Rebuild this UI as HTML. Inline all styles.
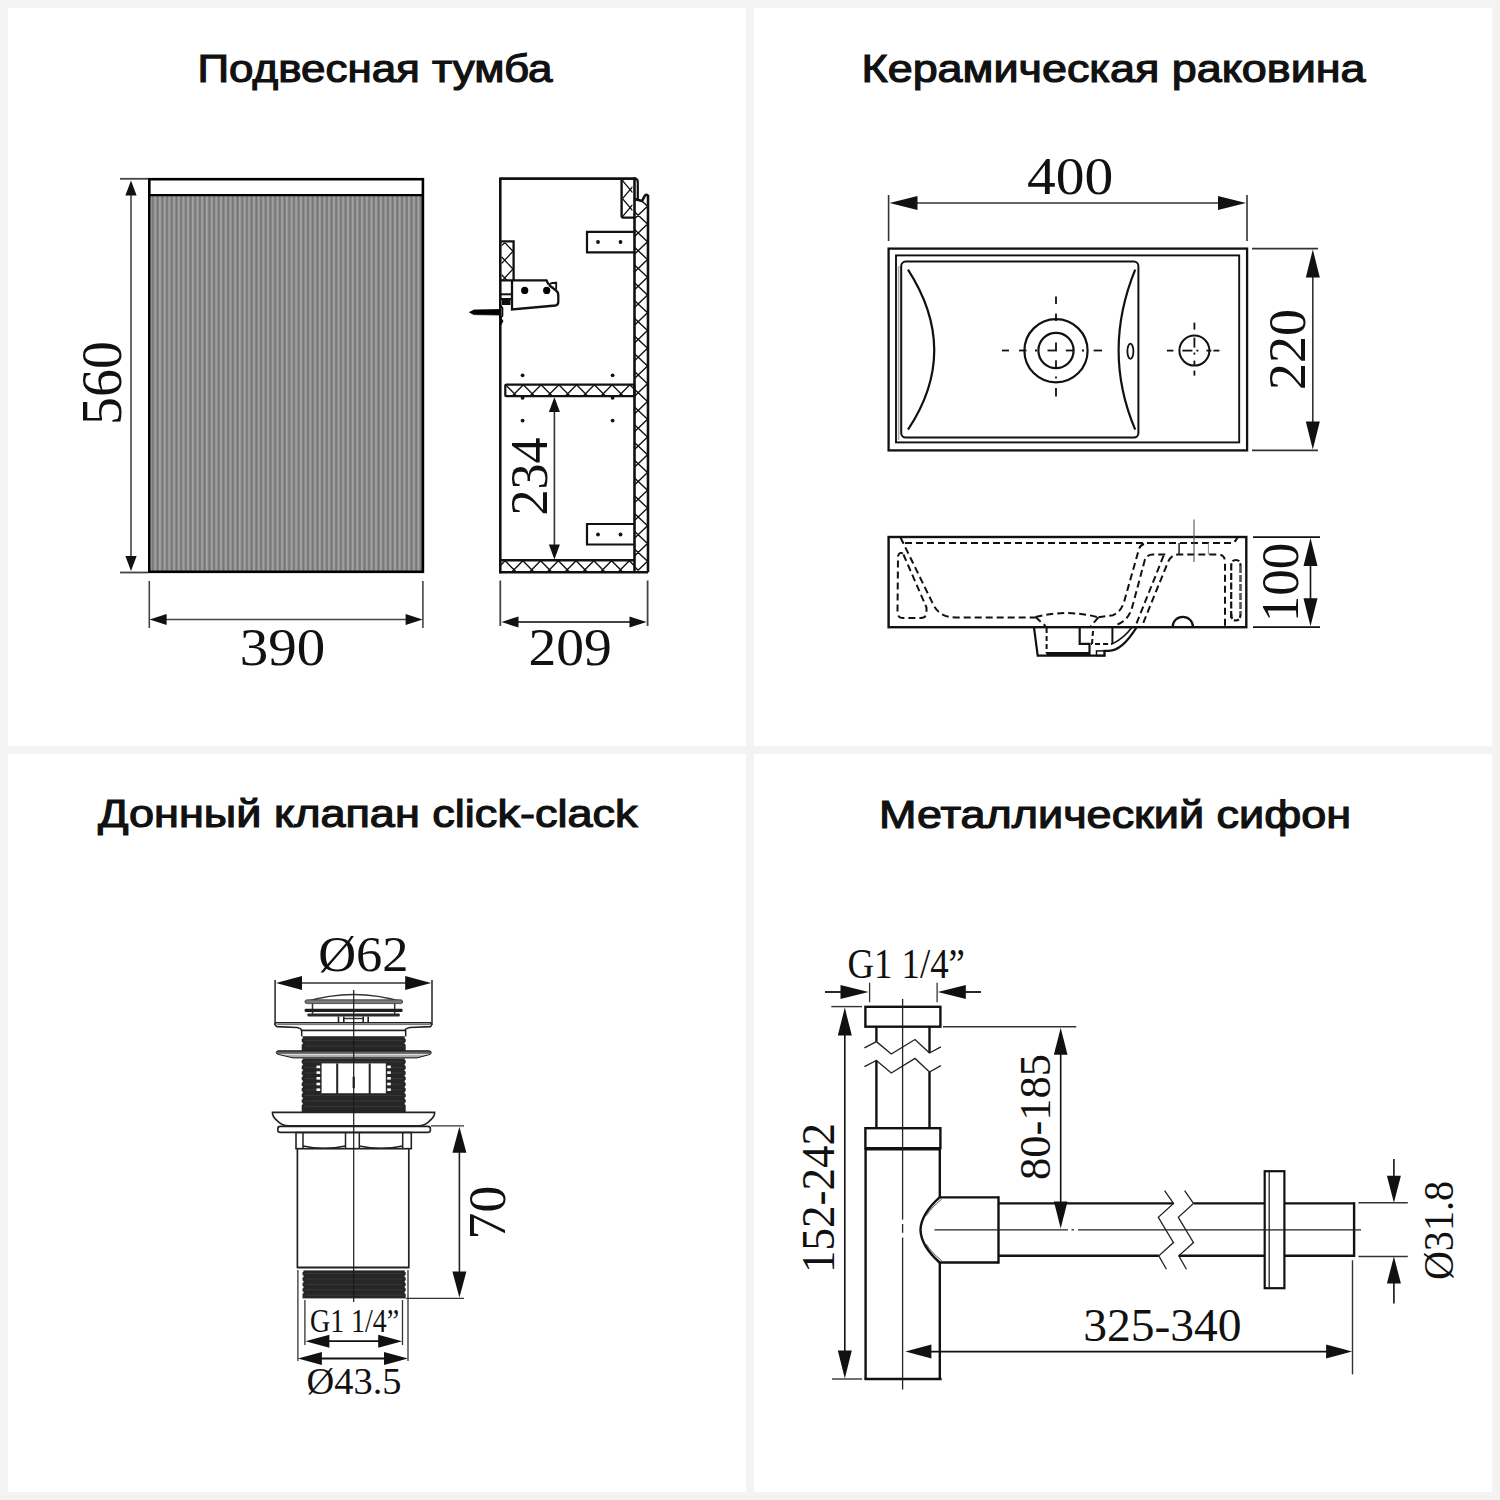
<!DOCTYPE html>
<html><head><meta charset="utf-8"><title>spec</title>
<style>
html,body{margin:0;padding:0;background:#f3f3f3;}
body{width:1500px;height:1500px;overflow:hidden;font-family:"Liberation Sans",sans-serif;}
svg{display:block;}
</style></head><body>
<svg width="1500" height="1500" viewBox="0 0 1500 1500">
<defs>
<linearGradient id="flute" x1="0" y1="0" x2="1" y2="0">
<stop offset="0" stop-color="#6c6c6c"/><stop offset="0.25" stop-color="#a6a6a6"/><stop offset="0.55" stop-color="#9a9a9a"/><stop offset="0.8" stop-color="#7a7a7a"/><stop offset="1" stop-color="#6c6c6c"/>
</linearGradient>
<pattern id="stripes" x="148.7" y="0" width="4.7" height="10" patternUnits="userSpaceOnUse">
<rect x="0" y="0" width="4.7" height="10" fill="url(#flute)"/>
</pattern>
</defs>
<rect x="0" y="0" width="1500" height="1500" fill="#f3f3f3"/>
<rect x="8" y="8" width="738" height="738" fill="#fff"/>
<rect x="754" y="8" width="738" height="738" fill="#fff"/>
<rect x="8" y="754" width="738" height="738" fill="#fff"/>
<rect x="754" y="754" width="738" height="738" fill="#fff"/>
<text x="375" y="82" font-family="Liberation Sans" font-size="38" font-weight="normal" fill="#111" text-anchor="middle" textLength="355" lengthAdjust="spacingAndGlyphs" stroke="#111" stroke-width="1.15">Подвесная тумба</text>
<rect x="150.5" y="195.5" width="271.5" height="376" fill="url(#stripes)"/>
<rect x="149.3" y="179.2" width="273.6" height="392.6" rx="0" stroke="#000" stroke-width="2.6" fill="none" />
<line x1="149.3" y1="195.2" x2="422.9" y2="195.2" stroke="#000" stroke-width="2.2" />
<line x1="120" y1="178.8" x2="148" y2="178.8" stroke="#444" stroke-width="1.8" />
<line x1="120" y1="572.5" x2="148" y2="572.5" stroke="#444" stroke-width="1.8" />
<line x1="131" y1="194" x2="131" y2="558" stroke="#444" stroke-width="1.6" />
<polygon points="131.0,180.5 125.4,195.5 136.6,195.5" fill="#111"/>
<polygon points="131.0,571.0 125.4,556.0 136.6,556.0" fill="#111"/>
<text x="121.2" y="383" font-family="Liberation Serif" font-size="57.5" font-weight="normal" fill="#111" text-anchor="middle" textLength="84" lengthAdjust="spacingAndGlyphs" transform="rotate(-90 121.2 383)" >560</text>
<line x1="149.3" y1="581" x2="149.3" y2="628" stroke="#444" stroke-width="1.6" />
<line x1="422.9" y1="581" x2="422.9" y2="628" stroke="#444" stroke-width="1.6" />
<line x1="165" y1="619.5" x2="408" y2="619.5" stroke="#444" stroke-width="1.6" />
<polygon points="149.6,619.5 166.6,613.9 166.6,625.1" fill="#111"/>
<polygon points="422.6,619.5 405.6,613.9 405.6,625.1" fill="#111"/>
<text x="282.4" y="664.5" font-family="Liberation Serif" font-size="52" font-weight="normal" fill="#111" text-anchor="middle" textLength="85.5" lengthAdjust="spacingAndGlyphs" >390</text>
<g clip-path="url(#c16)"><clipPath id="c16"><rect x="634.5" y="200" width="13.0" height="372"/></clipPath><path d="M634.5,158.52 L647.5,170.85 L634.5,183.18 M634.5,176.27 L647.5,188.60 L634.5,200.93 M634.5,194.02 L647.5,206.35 L634.5,218.68 M634.5,211.77 L647.5,224.10 L634.5,236.43 M634.5,229.52 L647.5,241.85 L634.5,254.18 M634.5,247.27 L647.5,259.60 L634.5,271.93 M634.5,265.02 L647.5,277.35 L634.5,289.68 M634.5,282.77 L647.5,295.10 L634.5,307.43 M634.5,300.52 L647.5,312.85 L634.5,325.18 M634.5,318.27 L647.5,330.60 L634.5,342.93 M634.5,336.02 L647.5,348.35 L634.5,360.68 M634.5,353.77 L647.5,366.10 L634.5,378.43 M634.5,371.52 L647.5,383.85 L634.5,396.18 M634.5,389.27 L647.5,401.60 L634.5,413.93 M634.5,407.02 L647.5,419.35 L634.5,431.68 M634.5,424.77 L647.5,437.10 L634.5,449.43 M634.5,442.52 L647.5,454.85 L634.5,467.18 M634.5,460.27 L647.5,472.60 L634.5,484.93 M634.5,478.02 L647.5,490.35 L634.5,502.68 M634.5,495.77 L647.5,508.10 L634.5,520.43 M634.5,513.52 L647.5,525.85 L634.5,538.18 M634.5,531.27 L647.5,543.60 L634.5,555.93 M634.5,549.02 L647.5,561.35 L634.5,573.68 M634.5,566.77 L647.5,579.10 L634.5,591.43 " stroke="#111" stroke-width="1.4" fill="none"/></g>
<path d="M634.5,199 L642,201 L645,195.5 Q646.5,193.8 648,195.8 L648,572.3" stroke="#111" stroke-width="2.6" fill="none" />
<line x1="634.5" y1="178.5" x2="634.5" y2="572.3" stroke="#111" stroke-width="2.6" />
<path d="M632.5,178.6 L635.5,178.6 Q637.8,179.5 637.8,182 L637.8,199" stroke="#111" stroke-width="2.2" fill="none" />
<g clip-path="url(#c20)"><clipPath id="c20"><rect x="622.5" y="180" width="10.100000000000023" height="37.5"/></clipPath><path d="M632.6,132.60 L622.5,144.60 L632.6,156.60 M632.6,150.60 L622.5,162.60 L632.6,174.60 M632.6,168.60 L622.5,180.60 L632.6,192.60 M632.6,186.60 L622.5,198.60 L632.6,210.60 M632.6,204.60 L622.5,216.60 L632.6,228.60 M632.6,222.60 L622.5,234.60 L632.6,246.60 " stroke="#111" stroke-width="1.3" fill="none"/></g>
<path d="M621.6,178.6 L621.6,215.8 Q621.6,217.6 623.4,217.6 L634,217.6" stroke="#111" stroke-width="2.4" fill="none" />
<line x1="500.3" y1="178.6" x2="636" y2="178.6" stroke="#111" stroke-width="2.6" />
<line x1="500.3" y1="177.4" x2="500.3" y2="573.6" stroke="#111" stroke-width="2.6" />
<line x1="500.3" y1="572.3" x2="648" y2="572.3" stroke="#111" stroke-width="2.6" />
<g clip-path="url(#c25)"><clipPath id="c25"><rect x="500.3" y="560.7" width="134.2" height="11.299999999999955"/></clipPath><path d="M458.51,572 L469.60,560.7 L480.69,572 M476.26,572 L487.35,560.7 L498.44,572 M494.01,572 L505.10,560.7 L516.19,572 M511.76,572 L522.85,560.7 L533.94,572 M529.51,572 L540.60,560.7 L551.69,572 M547.26,572 L558.35,560.7 L569.44,572 M565.01,572 L576.10,560.7 L587.19,572 M582.76,572 L593.85,560.7 L604.94,572 M600.51,572 L611.60,560.7 L622.69,572 M618.26,572 L629.35,560.7 L640.44,572 M636.01,572 L647.10,560.7 L658.19,572 " stroke="#111" stroke-width="1.4" fill="none" stroke-linejoin="miter"/></g>
<line x1="500.3" y1="560.3" x2="634.5" y2="560.3" stroke="#111" stroke-width="2.4" />
<g clip-path="url(#c27)"><clipPath id="c27"><rect x="505.3" y="384.8" width="128.49999999999994" height="11.199999999999989"/></clipPath><path d="M459.01,396 L470.10,384.8 L481.19,396 M476.76,396 L487.85,384.8 L498.94,396 M494.51,396 L505.60,384.8 L516.69,396 M512.26,396 L523.35,384.8 L534.44,396 M530.01,396 L541.10,384.8 L552.19,396 M547.76,396 L558.85,384.8 L569.94,396 M565.51,396 L576.60,384.8 L587.69,396 M583.26,396 L594.35,384.8 L605.44,396 M601.01,396 L612.10,384.8 L623.19,396 M618.76,396 L629.85,384.8 L640.94,396 M636.51,396 L647.60,384.8 L658.69,396 " stroke="#111" stroke-width="1.4" fill="none" stroke-linejoin="miter"/></g>
<rect x="505.3" y="384.6" width="129" height="11.6" rx="1" stroke="#111" stroke-width="2.2" fill="none" />
<circle cx="522.6" cy="375.3" r="1.9" fill="#111"/>
<circle cx="612.6" cy="375.3" r="1.9" fill="#111"/>
<circle cx="522.6" cy="397.8" r="1.9" fill="#111"/>
<circle cx="612.6" cy="397.8" r="1.9" fill="#111"/>
<circle cx="522.6" cy="420.6" r="1.9" fill="#111"/>
<circle cx="612.6" cy="420.6" r="1.9" fill="#111"/>
<path d="M634,231.8 L587,231.8 L587,252.3 L634,252.3" stroke="#111" stroke-width="2.2" fill="none" />
<circle cx="598" cy="242" r="1.9" fill="#111"/><circle cx="620.5" cy="242" r="1.9" fill="#111"/>
<path d="M634,524 L587,524 L587,544.5 L634,544.5" stroke="#111" stroke-width="2.2" fill="none" />
<circle cx="598" cy="534.5" r="1.9" fill="#111"/><circle cx="620.5" cy="534.5" r="1.9" fill="#111"/>
<g clip-path="url(#c39)"><clipPath id="c39"><rect x="501.5" y="242.5" width="11.5" height="37.80000000000001"/></clipPath><path d="M501.5,203.47 L513,215.80 L501.5,228.13 M501.5,221.22 L513,233.55 L501.5,245.88 M501.5,238.97 L513,251.30 L501.5,263.63 M501.5,256.72 L513,269.05 L501.5,281.38 M501.5,274.47 L513,286.80 L501.5,299.13 " stroke="#111" stroke-width="1.3" fill="none"/></g>
<path d="M500.3,241.4 L513.6,241.4 L513.6,280.3" stroke="#111" stroke-width="2.3" fill="none" />
<path d="M500.3,280.3 L546.5,280.3 L548.5,284.5 M512,280.3 L512,309.5 L555.5,305.5 Q558.3,305 558.3,302 L558.3,295 Q558.3,292 556,290.5 L549,285" stroke="#111" stroke-width="2.3" fill="none" />
<path d="M548.5,284.8 L552,283 L556.2,282.8 L556.2,289.5" stroke="#111" stroke-width="1.8" fill="none" />
<line x1="500.3" y1="294.3" x2="511" y2="294.3" stroke="#111" stroke-width="2" />
<line x1="500.3" y1="299" x2="511" y2="299" stroke="#111" stroke-width="2" />
<rect x="502" y="300" width="8.5" height="5" fill="#111"/>
<circle cx="524.7" cy="290.4" r="3.6" fill="#000"/><circle cx="546.7" cy="290.4" r="3.6" fill="#000"/>
<path d="M469.5,312.3 L474,310 L500,309.5 L500,315 L474,314.6 Z" stroke="#000" stroke-width="0.8" fill="#000" />
<path d="M500.3,305 L502.5,308 L502.5,316 L500.3,318 M500.3,318 L502.5,321 L500.3,325" stroke="#000" stroke-width="1.6" fill="none" />
<line x1="554.4" y1="410" x2="554.4" y2="545" stroke="#333" stroke-width="1.6" />
<polygon points="554.4,397.0 548.9,412.0 559.9,412.0" fill="#111"/>
<polygon points="554.4,559.5 548.9,544.5 559.9,544.5" fill="#111"/>
<text x="546.5" y="476.5" font-family="Liberation Serif" font-size="53" font-weight="normal" fill="#111" text-anchor="middle" textLength="78.1" lengthAdjust="spacingAndGlyphs" transform="rotate(-90 546.5 476.5)" >234</text>
<line x1="500.3" y1="580.5" x2="500.3" y2="626" stroke="#444" stroke-width="1.8" />
<line x1="647.6" y1="580.5" x2="647.6" y2="626" stroke="#444" stroke-width="1.8" />
<line x1="515" y1="622" x2="633" y2="622" stroke="#444" stroke-width="1.8" />
<polygon points="501.5,622.0 518.5,616.4 518.5,627.6" fill="#111"/>
<polygon points="646.5,622.0 629.5,616.4 629.5,627.6" fill="#111"/>
<text x="570.1" y="665" font-family="Liberation Serif" font-size="52" font-weight="normal" fill="#111" text-anchor="middle" textLength="83.3" lengthAdjust="spacingAndGlyphs" >209</text>
<text x="1113.5" y="82" font-family="Liberation Sans" font-size="38" font-weight="normal" fill="#111" text-anchor="middle" textLength="504" lengthAdjust="spacingAndGlyphs" stroke="#111" stroke-width="1.15">Керамическая раковина</text>
<rect x="888.6" y="248.6" width="358.5" height="201.8" rx="0" stroke="#111" stroke-width="2.3" fill="none" />
<rect x="896" y="255.4" width="343.2" height="187" rx="0" stroke="#111" stroke-width="1.9" fill="none" />
<line x1="898.6" y1="266" x2="898.6" y2="440" stroke="#aaa" stroke-width="1.6" />
<rect x="901.2" y="261.6" width="237.2" height="176" rx="4.5" stroke="#111" stroke-width="2.0" fill="none" />
<path d="M908,269.6 Q960.5,351 908,429.6" stroke="#111" stroke-width="2.2" fill="none" />
<path d="M1135.2,269.6 Q1102,351 1135.2,429.6" stroke="#111" stroke-width="2.2" fill="none" />
<ellipse cx="1130.4" cy="351.2" rx="3" ry="7.6" stroke="#111" stroke-width="1.8" fill="none"/>
<circle cx="1056" cy="350.7" r="31.6" stroke="#111" stroke-width="2.2" fill="none"/>
<circle cx="1056" cy="350.5" r="17.6" stroke="#111" stroke-width="2.2" fill="none"/>
<line x1="1002" y1="350.5" x2="1009" y2="350.5" stroke="#111" stroke-width="1.8" />
<line x1="1019" y1="350.5" x2="1026.5" y2="350.5" stroke="#111" stroke-width="1.8" />
<line x1="1035" y1="350.5" x2="1037" y2="350.5" stroke="#111" stroke-width="1.8" />
<line x1="1047.5" y1="350.5" x2="1056" y2="350.5" stroke="#111" stroke-width="1.8" />
<line x1="1056" y1="350.5" x2="1056.8" y2="350.5" stroke="#111" stroke-width="1.8" />
<line x1="1065.8" y1="350.5" x2="1073.6" y2="350.5" stroke="#111" stroke-width="1.8" />
<line x1="1082" y1="350.5" x2="1084" y2="350.5" stroke="#111" stroke-width="1.8" />
<line x1="1093.6" y1="350.5" x2="1102" y2="350.5" stroke="#111" stroke-width="1.8" />
<line x1="1056" y1="296.5" x2="1056" y2="304.0" stroke="#111" stroke-width="1.8" />
<line x1="1056" y1="313.5" x2="1056" y2="321.0" stroke="#111" stroke-width="1.8" />
<line x1="1056" y1="342.5" x2="1056" y2="350.5" stroke="#111" stroke-width="1.8" />
<line x1="1056" y1="360.3" x2="1056" y2="368.5" stroke="#111" stroke-width="1.8" />
<line x1="1056" y1="376.5" x2="1056" y2="378.5" stroke="#111" stroke-width="1.8" />
<line x1="1056" y1="388.1" x2="1056" y2="396.5" stroke="#111" stroke-width="1.8" />
<circle cx="1194.4" cy="350.6" r="15" stroke="#111" stroke-width="2" fill="none"/>
<line x1="1166.9" y1="350.6" x2="1173.4" y2="350.6" stroke="#111" stroke-width="1.8" />
<line x1="1182.4" y1="350.6" x2="1192.4" y2="350.6" stroke="#111" stroke-width="1.8" />
<line x1="1196.4" y1="350.6" x2="1198.4" y2="350.6" stroke="#111" stroke-width="1.8" />
<line x1="1206.4" y1="350.6" x2="1211.4" y2="350.6" stroke="#111" stroke-width="1.8" />
<line x1="1213.4" y1="350.6" x2="1219.4" y2="350.6" stroke="#111" stroke-width="1.8" />
<line x1="1194.4" y1="322.6" x2="1194.4" y2="329.6" stroke="#111" stroke-width="1.8" />
<line x1="1194.4" y1="337.6" x2="1194.4" y2="347.6" stroke="#111" stroke-width="1.8" />
<line x1="1194.4" y1="352.6" x2="1194.4" y2="354.6" stroke="#111" stroke-width="1.8" />
<line x1="1194.4" y1="360.6" x2="1194.4" y2="365.6" stroke="#111" stroke-width="1.8" />
<line x1="1194.4" y1="370.6" x2="1194.4" y2="375.6" stroke="#111" stroke-width="1.8" />
<line x1="888.6" y1="195" x2="888.6" y2="241" stroke="#333" stroke-width="1.6" />
<line x1="1247" y1="195" x2="1247" y2="241" stroke="#333" stroke-width="1.6" />
<line x1="905" y1="203" x2="1231" y2="203" stroke="#333" stroke-width="1.6" />
<polygon points="889.5,203.0 917.5,196.0 917.5,210.0" fill="#111"/>
<polygon points="1246.0,203.0 1218.0,196.0 1218.0,210.0" fill="#111"/>
<text x="1070.2" y="194.2" font-family="Liberation Serif" font-size="52" font-weight="normal" fill="#111" text-anchor="middle" textLength="86.3" lengthAdjust="spacingAndGlyphs" >400</text>
<line x1="1252" y1="248.6" x2="1318" y2="248.6" stroke="#333" stroke-width="1.6" />
<line x1="1252" y1="450.4" x2="1318" y2="450.4" stroke="#333" stroke-width="1.6" />
<line x1="1312.8" y1="265" x2="1312.8" y2="434" stroke="#333" stroke-width="1.6" />
<polygon points="1312.8,249.5 1305.8,277.5 1319.8,277.5" fill="#111"/>
<polygon points="1312.8,449.5 1305.8,421.5 1319.8,421.5" fill="#111"/>
<text x="1304.8" y="349.6" font-family="Liberation Serif" font-size="52" font-weight="normal" fill="#111" text-anchor="middle" textLength="81" lengthAdjust="spacingAndGlyphs" transform="rotate(-90 1304.8 349.6)" >220</text>
<rect x="888.6" y="537" width="357.7" height="90.2" rx="0" stroke="#111" stroke-width="2.4" fill="none" />
<path d="M905,543 L1233,543 Q1235.5,541.5 1237.5,537.5" stroke="#111" stroke-width="2.0" fill="none" stroke-dasharray="7,4" stroke-linecap="butt"/>
<path d="M900.5,537.5 L933.5,605 Q940,617.4 955,617.4 L1035.5,617.4" stroke="#111" stroke-width="2.0" fill="none" stroke-dasharray="7,4" stroke-linecap="butt"/>
<path d="M903,553.5 Q899.5,551.5 898,556 L897.5,612 Q897.5,618 903,618 L921,618 Q926.5,618 926.5,612 L926.5,607.5 L903,553.5 Z" stroke="#111" stroke-width="2.0" fill="none" stroke-dasharray="7,4" stroke-linecap="butt"/>
<path d="M1035.5,617 Q1067,609 1098.4,617.3" stroke="#111" stroke-width="2.0" fill="none" stroke-dasharray="7,4" stroke-linecap="butt"/>
<path d="M1035.5,617 L1045.5,626" stroke="#111" stroke-width="2" fill="none" stroke-dasharray="7,4" stroke-linecap="butt"/>
<path d="M1098.4,617.3 L1090.5,626.5" stroke="#111" stroke-width="2" fill="none" stroke-dasharray="7,4" stroke-linecap="butt"/>
<path d="M1098.4,617.3 L1113,615.2 Q1121,612 1124,602 L1139,549 Q1140.5,544 1146,543.6" stroke="#111" stroke-width="2.0" fill="none" stroke-dasharray="7,4" stroke-linecap="butt"/>
<path d="M1117.5,624.5 Q1129,620 1132.5,606 L1144.4,561.5 Q1146,554.5 1153,554.5 L1166,554.5" stroke="#111" stroke-width="2.0" fill="none" stroke-dasharray="7,4" stroke-linecap="butt"/>
<path d="M1163.6,555.6 L1136.5,623.5" stroke="#111" stroke-width="2.0" fill="none" stroke-dasharray="7,4" stroke-linecap="butt"/>
<path d="M1143.3,622.8 L1168,562 Q1171.5,554.5 1178,554.5 L1219,554.5 Q1225,555 1225,562 L1225,627" stroke="#111" stroke-width="2.0" fill="none" stroke-dasharray="7,4" stroke-linecap="butt"/>
<line x1="1179.1" y1="543" x2="1179.1" y2="554.5" stroke="#222" stroke-width="1.5" />
<line x1="1208.4" y1="543" x2="1208.4" y2="554.5" stroke="#888" stroke-width="1" />
<line x1="1194" y1="519.5" x2="1194" y2="562" stroke="#555" stroke-width="1.1" />
<path d="M1172.6,627 A10.2,10.2 0 0 1 1193,627" stroke="#111" stroke-width="2.2" fill="none" />
<path d="M1231.2,618 L1231.2,566 Q1231.2,560 1235.8,560 Q1240.5,560 1240.5,566" stroke="#111" stroke-width="2.2" fill="none" stroke-dasharray="7,2.5"/>
<path d="M1240.5,566 L1240.5,614" stroke="#555" stroke-width="2.6" fill="none" stroke-dasharray="7,2"/>
<path d="M1231.2,614 Q1231.2,620.5 1235.8,620.5 Q1240.5,620.5 1240.5,614" stroke="#111" stroke-width="2.2" fill="none" stroke-dasharray="5,2"/>
<path d="M1034,627.5 L1037.7,655.6 L1104.5,655.6 L1104.5,650.9 L1108.7,650.9 Q1122,651 1136.7,627.2" stroke="#111" stroke-width="2.2" fill="none" />
<path d="M1112.4,643.9 Q1124,638 1132,627.2" stroke="#111" stroke-width="1.6" fill="none" />
<path d="M1079.7,627.5 L1079.7,643.9 L1089.5,643.9 L1089.5,655.6" stroke="#111" stroke-width="2.2" fill="none" />
<line x1="1112.4" y1="627.5" x2="1112.4" y2="643.9" stroke="#111" stroke-width="2" />
<line x1="1046.6" y1="628" x2="1046.6" y2="653.5" stroke="#111" stroke-width="2" stroke-dasharray="5,3"/>
<path d="M1093,631 L1092,643.9 L1112.4,643.9" stroke="#111" stroke-width="2" fill="none" stroke-dasharray="5,3"/>
<line x1="1046.6" y1="653.5" x2="1089.5" y2="653.5" stroke="#111" stroke-width="3" />
<rect x="1096.5" y="650.9" width="8" height="4.7" rx="0" stroke="#111" stroke-width="1.5" fill="none" />
<line x1="1253" y1="537.2" x2="1320" y2="537.2" stroke="#111" stroke-width="1.7" />
<line x1="1253" y1="627.2" x2="1320" y2="627.2" stroke="#111" stroke-width="1.7" />
<line x1="1310.5" y1="550" x2="1310.5" y2="614" stroke="#111" stroke-width="1.6" />
<polygon points="1310.5,538.0 1303.5,566.0 1317.5,566.0" fill="#111"/>
<polygon points="1310.5,626.2 1303.5,598.2 1317.5,598.2" fill="#111"/>
<text x="1298" y="582.5" font-family="Liberation Serif" font-size="52" font-weight="normal" fill="#111" text-anchor="middle" textLength="79.4" lengthAdjust="spacingAndGlyphs" transform="rotate(-90 1298 582.5)" >100</text>
<text x="367.8" y="827" font-family="Liberation Sans" font-size="38" font-weight="normal" fill="#111" text-anchor="middle" textLength="539.5" lengthAdjust="spacingAndGlyphs" stroke="#111" stroke-width="1.15">Донный клапан click-clack</text>
<line x1="275.1" y1="980" x2="275.1" y2="1025" stroke="#333" stroke-width="1.6" />
<line x1="432" y1="980" x2="432" y2="1025" stroke="#333" stroke-width="1.6" />
<line x1="295" y1="983" x2="412" y2="983" stroke="#333" stroke-width="1.6" />
<polygon points="276.0,983.0 302.0,976.0 302.0,990.0" fill="#111"/>
<polygon points="431.2,983.0 405.2,976.0 405.2,990.0" fill="#111"/>
<text x="363.3" y="971" font-family="Liberation Serif" font-size="50" font-weight="normal" fill="#111" text-anchor="middle" textLength="90.3" lengthAdjust="spacingAndGlyphs" >Ø62</text>
<path d="M305,1002 Q353.5,987 402.6,1002 Z" stroke="#333" stroke-width="1.6" fill="#fff" />
<rect x="305" y="999.8" width="97.6" height="3.8" rx="1.9" fill="#7a7a7a" stroke="#333" stroke-width="0.8"/>
<line x1="312.5" y1="1003.5" x2="312.5" y2="1016" stroke="#333" stroke-width="1.5" />
<line x1="394.7" y1="1003.5" x2="394.7" y2="1016" stroke="#333" stroke-width="1.5" />
<rect x="304.6" y="1008.8" width="98" height="3.2" rx="1.2" fill="#1e1e1e"/>
<rect x="307.4" y="1013.6" width="92.4" height="2.8" rx="1" fill="#2a2a2a"/>
<line x1="338.5" y1="1016.4" x2="338.5" y2="1022.4" stroke="#222" stroke-width="1.6" />
<line x1="343.8" y1="1016.4" x2="343.8" y2="1022.4" stroke="#222" stroke-width="1.6" />
<line x1="363.2" y1="1016.4" x2="363.2" y2="1022.4" stroke="#222" stroke-width="1.6" />
<line x1="368.2" y1="1016.4" x2="368.2" y2="1022.4" stroke="#222" stroke-width="1.6" />
<line x1="343.8" y1="1018.5" x2="363.2" y2="1018.5" stroke="#333" stroke-width="1.4" />
<path d="M275.5,1022.8 L430.5,1022.8 Q432.5,1024.6 430.5,1026.6 L410,1027.5 Q405,1028.5 405,1030.5 L301.5,1030.5 Q301.5,1028.5 297,1027.5 L277,1026.6 Q274,1024.6 275.5,1022.8 Z" stroke="#222" stroke-width="1.6" fill="#fff" />
<line x1="277" y1="1024.6" x2="430" y2="1024.6" stroke="#666" stroke-width="1.0" />
<rect x="301.7" y="1030.5" width="104" height="6.5" rx="0" stroke="#222" stroke-width="1.5" fill="#fff" />
<rect x="301.7" y="1037" width="104.0" height="14" fill="#262626"/>
<line x1="304.7" y1="1040.4" x2="402.7" y2="1040.4" stroke="#3c3c3c" stroke-width="0.9"/>
<circle cx="301.5" cy="1037.6" r="1.3" fill="#fff"/><circle cx="405.9" cy="1037.6" r="1.3" fill="#fff"/>
<line x1="304.7" y1="1046.0" x2="402.7" y2="1046.0" stroke="#3c3c3c" stroke-width="0.9"/>
<circle cx="301.5" cy="1043.2" r="1.3" fill="#fff"/><circle cx="405.9" cy="1043.2" r="1.3" fill="#fff"/>
<rect x="301.7" y="1058.4" width="104.0" height="53.59999999999991" fill="#262626"/>
<line x1="304.7" y1="1061.8" x2="402.7" y2="1061.8" stroke="#3c3c3c" stroke-width="0.9"/>
<circle cx="301.5" cy="1059.0" r="1.3" fill="#fff"/><circle cx="405.9" cy="1059.0" r="1.3" fill="#fff"/>
<line x1="304.7" y1="1067.4" x2="402.7" y2="1067.4" stroke="#3c3c3c" stroke-width="0.9"/>
<circle cx="301.5" cy="1064.6" r="1.3" fill="#fff"/><circle cx="405.9" cy="1064.6" r="1.3" fill="#fff"/>
<line x1="304.7" y1="1073.0" x2="402.7" y2="1073.0" stroke="#3c3c3c" stroke-width="0.9"/>
<circle cx="301.5" cy="1070.2" r="1.3" fill="#fff"/><circle cx="405.9" cy="1070.2" r="1.3" fill="#fff"/>
<line x1="304.7" y1="1078.6" x2="402.7" y2="1078.6" stroke="#3c3c3c" stroke-width="0.9"/>
<circle cx="301.5" cy="1075.8" r="1.3" fill="#fff"/><circle cx="405.9" cy="1075.8" r="1.3" fill="#fff"/>
<line x1="304.7" y1="1084.2" x2="402.7" y2="1084.2" stroke="#3c3c3c" stroke-width="0.9"/>
<circle cx="301.5" cy="1081.4" r="1.3" fill="#fff"/><circle cx="405.9" cy="1081.4" r="1.3" fill="#fff"/>
<line x1="304.7" y1="1089.8" x2="402.7" y2="1089.8" stroke="#3c3c3c" stroke-width="0.9"/>
<circle cx="301.5" cy="1087.0" r="1.3" fill="#fff"/><circle cx="405.9" cy="1087.0" r="1.3" fill="#fff"/>
<line x1="304.7" y1="1095.4" x2="402.7" y2="1095.4" stroke="#3c3c3c" stroke-width="0.9"/>
<circle cx="301.5" cy="1092.6" r="1.3" fill="#fff"/><circle cx="405.9" cy="1092.6" r="1.3" fill="#fff"/>
<line x1="304.7" y1="1101.0" x2="402.7" y2="1101.0" stroke="#3c3c3c" stroke-width="0.9"/>
<circle cx="301.5" cy="1098.2" r="1.3" fill="#fff"/><circle cx="405.9" cy="1098.2" r="1.3" fill="#fff"/>
<line x1="304.7" y1="1106.6" x2="402.7" y2="1106.6" stroke="#3c3c3c" stroke-width="0.9"/>
<circle cx="301.5" cy="1103.8" r="1.3" fill="#fff"/><circle cx="405.9" cy="1103.8" r="1.3" fill="#fff"/>
<linearGradient id="nutg" x1="0" y1="0" x2="0" y2="1"><stop offset="0" stop-color="#3a3a3a"/><stop offset="0.3" stop-color="#6a6a6a"/><stop offset="0.42" stop-color="#7a7a7a"/><stop offset="0.5" stop-color="#e0e0e0"/><stop offset="0.62" stop-color="#b5b5b5"/><stop offset="1" stop-color="#9a9a9a"/></linearGradient>
<path d="M278,1050.8 L429.5,1050.8 Q431.5,1051.2 431.2,1053 Q430.8,1054.6 428.7,1054.8 L417,1057.9 L293,1057.9 L280,1054.8 Q276.5,1054.5 276.3,1052.8 Q276.3,1051.2 278,1050.8 Z" stroke="#1a1a1a" stroke-width="1.0" fill="url(#nutg)" />
<rect x="321.6" y="1063.4" width="64.2" height="30.7" fill="#fff"/>
<line x1="337.2" y1="1063.4" x2="337.2" y2="1094.1" stroke="#222" stroke-width="2" />
<line x1="369.7" y1="1063.4" x2="369.7" y2="1094.1" stroke="#222" stroke-width="2" />
<line x1="353.7" y1="1076.8" x2="353.7" y2="1088.1" stroke="#222" stroke-width="2.2" />
<line x1="321.6" y1="1094.1" x2="385.8" y2="1094.1" stroke="#222" stroke-width="1.6" />
<rect x="316.5" y="1065.6" width="3.6" height="2.6" fill="#fff"/><rect x="387.2" y="1065.6" width="3.6" height="2.6" fill="#fff"/>
<rect x="316.5" y="1071.3" width="3.6" height="2.6" fill="#fff"/><rect x="387.2" y="1071.3" width="3.6" height="2.6" fill="#fff"/>
<rect x="316.5" y="1077.0" width="3.6" height="2.6" fill="#fff"/><rect x="387.2" y="1077.0" width="3.6" height="2.6" fill="#fff"/>
<rect x="316.5" y="1082.7" width="3.6" height="2.6" fill="#fff"/><rect x="387.2" y="1082.7" width="3.6" height="2.6" fill="#fff"/>
<rect x="316.5" y="1088.4" width="3.6" height="2.6" fill="#fff"/><rect x="387.2" y="1088.4" width="3.6" height="2.6" fill="#fff"/>
<path d="M272.5,1112.3 L434.6,1112.3 Q435,1116 430,1120.5 Q425.5,1125.8 418,1125.8 L289,1125.8 Q281.5,1125.8 277,1120.5 Q272,1116 272.5,1112.3 Z" stroke="#222" stroke-width="1.7" fill="#fff" />
<rect x="277.8" y="1126.4" width="152.6" height="6" rx="2.5" stroke="#222" stroke-width="1.6" fill="#fff" />
<path d="M296,1132.6 L411.3,1132.6 L411.3,1148.7 L296,1148.7 Z" stroke="#222" stroke-width="1.6" fill="#fff" />
<line x1="303" y1="1132.6" x2="303" y2="1148.7" stroke="#222" stroke-width="1.5" />
<line x1="345.5" y1="1132.6" x2="345.5" y2="1148.7" stroke="#222" stroke-width="1.5" />
<line x1="359.3" y1="1132.6" x2="359.3" y2="1148.7" stroke="#222" stroke-width="1.5" />
<line x1="402.7" y1="1132.6" x2="402.7" y2="1148.7" stroke="#222" stroke-width="1.5" />
<path d="M303,1146 Q324,1150.5 345.5,1146 M359.3,1146 Q381,1150.5 402.7,1146" stroke="#222" stroke-width="1.5" fill="none" />
<rect x="297.4" y="1148.7" width="111.4" height="118.8" rx="0" stroke="#222" stroke-width="1.7" fill="#fff" />
<line x1="297.4" y1="1267.5" x2="408.8" y2="1267.5" stroke="#222" stroke-width="1.7" />
<rect x="302.5" y="1270.4" width="103.19999999999999" height="28.0" fill="#262626"/>
<line x1="305.5" y1="1273.6" x2="402.7" y2="1273.6" stroke="#3c3c3c" stroke-width="0.9"/>
<circle cx="302.3" cy="1270.9" r="1.3" fill="#fff"/><circle cx="405.9" cy="1270.9" r="1.3" fill="#fff"/>
<line x1="305.5" y1="1279.0" x2="402.7" y2="1279.0" stroke="#3c3c3c" stroke-width="0.9"/>
<circle cx="302.3" cy="1276.3" r="1.3" fill="#fff"/><circle cx="405.9" cy="1276.3" r="1.3" fill="#fff"/>
<line x1="305.5" y1="1284.4" x2="402.7" y2="1284.4" stroke="#3c3c3c" stroke-width="0.9"/>
<circle cx="302.3" cy="1281.7" r="1.3" fill="#fff"/><circle cx="405.9" cy="1281.7" r="1.3" fill="#fff"/>
<line x1="305.5" y1="1289.8" x2="402.7" y2="1289.8" stroke="#3c3c3c" stroke-width="0.9"/>
<circle cx="302.3" cy="1287.1" r="1.3" fill="#fff"/><circle cx="405.9" cy="1287.1" r="1.3" fill="#fff"/>
<line x1="305.5" y1="1295.2" x2="402.7" y2="1295.2" stroke="#3c3c3c" stroke-width="0.9"/>
<circle cx="302.3" cy="1292.5" r="1.3" fill="#fff"/><circle cx="405.9" cy="1292.5" r="1.3" fill="#fff"/>
<line x1="353.7" y1="990" x2="353.7" y2="1302" stroke="#1a1a1a" stroke-width="1.2" />
<line x1="431" y1="1125.8" x2="464" y2="1125.8" stroke="#333" stroke-width="1.3" />
<line x1="406" y1="1298.4" x2="464" y2="1298.4" stroke="#333" stroke-width="1.3" />
<line x1="459.4" y1="1145" x2="459.4" y2="1280" stroke="#222" stroke-width="1.6" />
<polygon points="459.4,1126.8 452.4,1152.8 466.4,1152.8" fill="#111"/>
<polygon points="459.4,1297.4 452.4,1271.4 466.4,1271.4" fill="#111"/>
<text x="505" y="1212.6" font-family="Liberation Serif" font-size="52" font-weight="normal" fill="#111" text-anchor="middle" textLength="53.7" lengthAdjust="spacingAndGlyphs" transform="rotate(-90 505 1212.6)" >70</text>
<line x1="304.9" y1="1300" x2="304.9" y2="1345" stroke="#333" stroke-width="1.3" />
<line x1="402.5" y1="1300" x2="402.5" y2="1345" stroke="#333" stroke-width="1.3" />
<line x1="320" y1="1341.2" x2="388" y2="1341.2" stroke="#111" stroke-width="1.8" />
<polygon points="305.4,1341.2 305.4,1341.2 305.4,1341.2" fill="#111"/>
<polygon points="305.4,1341.2 329.4,1334.7 329.4,1347.7" fill="#111"/>
<polygon points="402.2,1341.2 378.2,1334.7 378.2,1347.7" fill="#111"/>
<text x="354.6" y="1332.3" font-family="Liberation Serif" font-size="33.7" font-weight="normal" fill="#111" text-anchor="middle" textLength="89.2" lengthAdjust="spacingAndGlyphs" >G1 1/4”</text>
<line x1="297.9" y1="1270" x2="297.9" y2="1361" stroke="#333" stroke-width="1.3" />
<line x1="408" y1="1270" x2="408" y2="1361" stroke="#333" stroke-width="1.3" />
<line x1="315" y1="1358.5" x2="392" y2="1358.5" stroke="#111" stroke-width="1.8" />
<polygon points="297.9,1358.5 321.9,1352.0 321.9,1365.0" fill="#111"/>
<polygon points="408.0,1358.5 384.0,1352.0 384.0,1365.0" fill="#111"/>
<text x="354" y="1393.5" font-family="Liberation Serif" font-size="38.8" font-weight="normal" fill="#111" text-anchor="middle" textLength="95" lengthAdjust="spacingAndGlyphs" >Ø43.5</text>
<text x="1115" y="827.5" font-family="Liberation Sans" font-size="38" font-weight="normal" fill="#111" text-anchor="middle" textLength="472" lengthAdjust="spacingAndGlyphs" stroke="#111" stroke-width="1.15">Металлический сифон</text>
<text x="906.2" y="977.5" font-family="Liberation Serif" font-size="42.3" font-weight="normal" fill="#111" text-anchor="middle" textLength="117.5" lengthAdjust="spacingAndGlyphs" >G1 1/4”</text>
<line x1="825" y1="992" x2="845" y2="992" stroke="#111" stroke-width="1.8" />
<polygon points="868.5,992.0 840.5,985.0 840.5,999.0" fill="#111"/>
<line x1="960" y1="992" x2="981" y2="992" stroke="#111" stroke-width="1.8" />
<polygon points="937.8,992.0 965.8,985.0 965.8,999.0" fill="#111"/>
<line x1="869.6" y1="982.7" x2="869.6" y2="1002.3" stroke="#333" stroke-width="1.3" />
<line x1="937.1" y1="982.7" x2="937.1" y2="1002.3" stroke="#333" stroke-width="1.3" />
<rect x="865.4" y="1006.8" width="75" height="19.9" rx="0" stroke="#111" stroke-width="2.4" fill="none" />
<line x1="831.3" y1="1006.6" x2="862" y2="1006.6" stroke="#333" stroke-width="1.4" />
<line x1="943" y1="1026.7" x2="1076.2" y2="1026.7" stroke="#333" stroke-width="1.4" />
<line x1="876.4" y1="1026.7" x2="876.4" y2="1041.6" stroke="#111" stroke-width="2.4" />
<line x1="929.5" y1="1026.7" x2="929.5" y2="1053" stroke="#111" stroke-width="2.4" />
<path d="M864.4,1047.8 L876.4,1041.6 L891.3,1054 L915,1039.5 L929.5,1053 L940.9,1046.8" stroke="#222" stroke-width="1.4" fill="none" />
<path d="M864.4,1066.7 L876.4,1060.5 L891.3,1073 L915,1058.4 L929.5,1072 L940.9,1065.7" stroke="#222" stroke-width="1.4" fill="none" />
<line x1="876.4" y1="1060.5" x2="876.4" y2="1128" stroke="#111" stroke-width="2.4" />
<line x1="929.5" y1="1072" x2="929.5" y2="1128" stroke="#111" stroke-width="2.4" />
<rect x="865.4" y="1128.2" width="75" height="20" rx="0" stroke="#111" stroke-width="2.4" fill="none" />
<line x1="865.4" y1="1149" x2="940.4" y2="1149" stroke="#111" stroke-width="3.2" />
<line x1="865.6" y1="1148" x2="865.6" y2="1379" stroke="#111" stroke-width="2.4" />
<line x1="939.8" y1="1148" x2="939.8" y2="1197.4" stroke="#111" stroke-width="2.4" />
<line x1="939.8" y1="1262.5" x2="939.8" y2="1379" stroke="#111" stroke-width="2.4" />
<line x1="864.4" y1="1379" x2="941.6" y2="1379" stroke="#111" stroke-width="2.4" />
<path d="M998.5,1262.5 L939.6,1262.5 Q921,1246 920.5,1229.9 Q921,1214 939.6,1197.4 L998.5,1197.4" stroke="#111" stroke-width="2.4" fill="none" />
<path d="M941.8,1199 Q930,1209 926.5,1215.5 M926.5,1244.3 Q930,1251 941.8,1260.8" stroke="#555" stroke-width="1.0" fill="none" />
<line x1="998.5" y1="1196.2" x2="998.5" y2="1263.7" stroke="#111" stroke-width="2.4" />
<line x1="998.8" y1="1203.4" x2="1173.5" y2="1203.4" stroke="#111" stroke-width="2.4" />
<line x1="998.8" y1="1255.8" x2="1158.8" y2="1255.8" stroke="#111" stroke-width="2.4" />
<line x1="1193.5" y1="1203.4" x2="1354.1" y2="1203.4" stroke="#111" stroke-width="2.4" />
<line x1="1178.8" y1="1255.8" x2="1354.1" y2="1255.8" stroke="#111" stroke-width="2.4" />
<line x1="1354.1" y1="1202.2" x2="1354.1" y2="1257" stroke="#111" stroke-width="2.4" />
<path d="M1164.6,1190.7 L1173.5,1203.4 L1158.3,1217.3 L1173.5,1242.6 L1158.8,1255.8 L1166.4,1269.2" stroke="#222" stroke-width="1.3" fill="none" />
<path d="M1184.6,1190.7 L1193.5,1203.4 L1178.3,1217.3 L1193.5,1242.6 L1178.8,1255.8 L1186.4,1269.2" stroke="#222" stroke-width="1.3" fill="none" />
<line x1="902.6" y1="999" x2="902.6" y2="1219.6" stroke="#222" stroke-width="1.3" />
<line x1="902.6" y1="1224" x2="902.6" y2="1232.8" stroke="#222" stroke-width="1.3" />
<line x1="902.6" y1="1237.5" x2="902.6" y2="1389.5" stroke="#222" stroke-width="1.3" />
<line x1="934.5" y1="1229.9" x2="1068" y2="1229.9" stroke="#222" stroke-width="1.3" />
<line x1="1071.5" y1="1229.8" x2="1074" y2="1229.8" stroke="#222" stroke-width="1.3" />
<line x1="1078" y1="1229.8" x2="1361" y2="1229.8" stroke="#222" stroke-width="1.3" />
<rect x="1264.7" y="1171.2" width="19.7" height="117" rx="0" stroke="#111" stroke-width="2.2" fill="#fff" />
<line x1="1269.2" y1="1171.2" x2="1269.2" y2="1288.2" stroke="#222" stroke-width="1.3" />
<line x1="1264" y1="1229.9" x2="1285" y2="1229.9" stroke="#222" stroke-width="1.3" />
<line x1="844.8" y1="1035" x2="844.8" y2="1351" stroke="#111" stroke-width="1.6" />
<polygon points="844.8,1007.6 837.8,1035.6 851.8,1035.6" fill="#111"/>
<polygon points="844.8,1378.4 837.8,1350.4 851.8,1350.4" fill="#111"/>
<line x1="832" y1="1379" x2="862" y2="1379" stroke="#333" stroke-width="1.4" />
<text x="833.5" y="1198" font-family="Liberation Serif" font-size="46.5" font-weight="normal" fill="#111" text-anchor="middle" textLength="149.9" lengthAdjust="spacingAndGlyphs" transform="rotate(-90 833.5 1198)" >152-242</text>
<line x1="1060.7" y1="1054" x2="1060.7" y2="1202" stroke="#111" stroke-width="1.6" />
<polygon points="1060.7,1027.8 1053.9,1054.8 1067.5,1054.8" fill="#111"/>
<polygon points="1060.7,1228.6 1053.9,1201.6 1067.5,1201.6" fill="#111"/>
<text x="1050.4" y="1117" font-family="Liberation Serif" font-size="45" font-weight="normal" fill="#111" text-anchor="middle" textLength="126" lengthAdjust="spacingAndGlyphs" transform="rotate(-90 1050.4 1117)" >80-185</text>
<line x1="930" y1="1351.6" x2="1328" y2="1351.6" stroke="#111" stroke-width="1.6" />
<polygon points="905.4,1351.6 931.4,1344.6 931.4,1358.6" fill="#111"/>
<polygon points="1352.1,1351.6 1326.1,1344.6 1326.1,1358.6" fill="#111"/>
<line x1="1352.5" y1="1260.3" x2="1352.5" y2="1374.4" stroke="#333" stroke-width="1.4" />
<text x="1162.4" y="1341.4" font-family="Liberation Serif" font-size="46" font-weight="normal" fill="#111" text-anchor="middle" textLength="158.5" lengthAdjust="spacingAndGlyphs" >325-340</text>
<line x1="1358.4" y1="1202.8" x2="1407.8" y2="1202.8" stroke="#333" stroke-width="1.4" />
<line x1="1358.4" y1="1256.5" x2="1407.8" y2="1256.5" stroke="#333" stroke-width="1.4" />
<line x1="1393.9" y1="1159" x2="1393.9" y2="1180" stroke="#111" stroke-width="1.6" />
<polygon points="1393.9,1202.8 1386.9,1175.8 1400.9,1175.8" fill="#111"/>
<line x1="1393.9" y1="1280" x2="1393.9" y2="1303.4" stroke="#111" stroke-width="1.6" />
<polygon points="1393.9,1256.5 1386.9,1283.5 1400.9,1283.5" fill="#111"/>
<text x="1452.5" y="1230.5" font-family="Liberation Serif" font-size="43" font-weight="normal" fill="#111" text-anchor="middle" textLength="99.2" lengthAdjust="spacingAndGlyphs" transform="rotate(-90 1452.5 1230.5)" >Ø31.8</text>
</svg>
</body></html>
